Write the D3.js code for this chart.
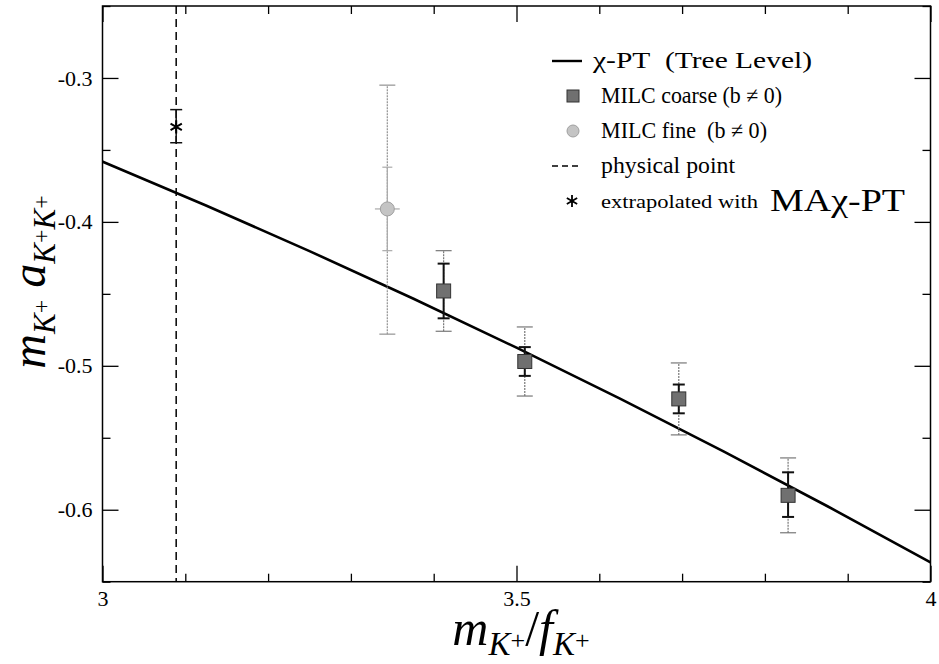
<!DOCTYPE html>
<html><head><meta charset="utf-8">
<script src="https://cdn.jsdelivr.net/npm/d3@7"></script>
<style>body{margin:0;background:#fff}svg{display:block}</style>
</head><body>
<svg id="c" width="939" height="664"></svg>
<script>
// ---- data ----
const xDomain = [3, 4];
const yDomain = [-0.65, -0.25];
const xMajorTicks = [3, 3.5, 4];
const xTickLabels = ["3", "3.5", "4"];
const xMinorTicks = [3.1, 3.2, 3.3, 3.4, 3.6, 3.7, 3.8, 3.9];
const yMajorTicks = [-0.6, -0.5, -0.4, -0.3];
const yTickLabels = ["-0.6", "-0.5", "-0.4", "-0.3"];
const yMinorTicks = [-0.65, -0.55, -0.45, -0.35, -0.25];

// tree-level chi-PT line
const treeX = [3.0, 3.125, 3.25, 3.375, 3.5, 3.625, 3.75, 3.875, 4.0];
const treeY = [-0.3581, -0.3886, -0.4203, -0.4532, -0.4874, -0.5228, -0.5595, -0.5974, -0.6366];

// MILC coarse: x, y, inner (stat) low/high, outer (total) low/high
const coarseX   = [3.412, 3.510, 3.696, 3.828];
const coarseY   = [-0.448, -0.497, -0.523, -0.590];
const coarseInLo = [-0.467, -0.507, -0.533, -0.605];
const coarseInHi = [-0.429, -0.487, -0.513, -0.574];
const coarseOutLo = [-0.476, -0.521, -0.548, -0.616];
const coarseOutHi = [-0.420, -0.473, -0.498, -0.564];

// MILC fine
const fineX = [3.344];
const fineY = [-0.391];
const fineXErr = [0.015];
const fineInLo = [-0.420];
const fineInHi = [-0.362];
const fineOutLo = [-0.478];
const fineOutHi = [-0.305];

// physical point & extrapolated
const physX = 3.089;
const extrapX = [3.089];
const extrapY = [-0.334];
const extrapLo = [-0.345];
const extrapHi = [-0.322];

const legendLabels = ["\u03C7-PT\u00A0\u00A0(Tree Level)", "MILC coarse (b \u2260 0)", "MILC fine\u00A0\u00A0(b \u2260 0)", "physical point", "extrapolated with"];

// ---- drawing ----
const SERIF = '"Liberation Serif", "Times New Roman", Times, serif';
const svg = d3.select("#c");
const L = 102.5, R = 930.5, T = 6, B = 581.7;
const x = d3.scaleLinear(xDomain, [L, R]);
const y = d3.scaleLinear(yDomain, [B, T]);

const g = svg.append("g");

// physical point dashed line
g.append("line").attr("x1", x(physX)).attr("x2", x(physX)).attr("y1", y(yDomain[1])).attr("y2", y(yDomain[0]))
  .attr("stroke", "#111").attr("stroke-width", 1.6).attr("stroke-dasharray", "8,5");

// tree-level line
const line = d3.line().x((d, i) => x(treeX[i])).y((d, i) => y(treeY[i])).curve(d3.curveNatural);
g.append("path").datum(treeX).attr("d", line).attr("fill", "none").attr("stroke", "#000").attr("stroke-width", 2.6);

function errBar(cx, lo, hi, cap, color, w, dash) {
  g.append("line").attr("x1", cx).attr("x2", cx).attr("y1", y(lo)).attr("y2", y(hi)).attr("stroke", color).attr("stroke-width", w).attr("stroke-dasharray", dash || null);
  [lo, hi].forEach(v => g.append("line").attr("x1", cx - cap).attr("x2", cx + cap).attr("y1", y(v)).attr("y2", y(v)).attr("stroke", color).attr("stroke-width", w));
}

// MILC fine
fineX.forEach((fx, i) => {
  const cx = x(fx);
  errBar(cx, fineOutLo[i], fineOutHi[i], 8, "#9a9a9a", 1.3, "2,1");
  errBar(cx, fineInLo[i], fineInHi[i], 5, "#aaa", 1.2);
  g.append("line").attr("x1", x(fx - fineXErr[i])).attr("x2", x(fx + fineXErr[i])).attr("y1", y(fineY[i])).attr("y2", y(fineY[i])).attr("stroke", "#aaa").attr("stroke-width", 1.2);
  g.append("circle").attr("cx", cx).attr("cy", y(fineY[i])).attr("r", 7).attr("fill", "#c4c4c4").attr("stroke", "#a0a0a0").attr("stroke-width", 1);
});

// MILC coarse
coarseX.forEach((cxv, i) => {
  const cx = x(cxv);
  errBar(cx, coarseOutLo[i], coarseOutHi[i], 8, "#777", 1.2, "2,1");
  errBar(cx, coarseInLo[i], coarseInHi[i], 6, "#111", 2);
  g.append("rect").attr("x", cx - 7).attr("y", y(coarseY[i]) - 7).attr("width", 14).attr("height", 14)
    .attr("fill", "#707070").attr("stroke", "#333").attr("stroke-width", 1);
});

// extrapolated star
const star = d3.symbol().type(d3.symbolAsterisk).size(120);
extrapX.forEach((ex, i) => {
  const cx = x(ex);
  errBar(cx, extrapLo[i], extrapHi[i], 6, "#111", 1.5);
  g.append("path").attr("d", star()).attr("transform", `translate(${cx},${y(extrapY[i])})`).attr("fill", "none").attr("stroke", "#000").attr("stroke-width", 2);
});

// frame
svg.append("rect").attr("x", L).attr("y", T).attr("width", R - L).attr("height", B - T).attr("fill", "none").attr("stroke", "#000").attr("stroke-width", 1.5);

// axes (inward ticks)
const axB = svg.append("g").attr("transform", `translate(0,${B})`)
  .call(d3.axisBottom(x).tickValues(xMajorTicks).tickSize(-16).tickPadding(6).tickFormat((d, i) => xTickLabels[i]));
svg.append("g").attr("transform", `translate(0,${B})`).call(d3.axisBottom(x).tickValues(xMinorTicks).tickSize(-8).tickFormat(""));
svg.append("g").attr("transform", `translate(0,${T})`).call(d3.axisTop(x).tickValues(xMajorTicks).tickSize(-16).tickFormat(""));
svg.append("g").attr("transform", `translate(0,${T})`).call(d3.axisTop(x).tickValues(xMinorTicks).tickSize(-8).tickFormat(""));
svg.append("g").attr("transform", `translate(${L},0)`)
  .call(d3.axisLeft(y).tickValues(yMajorTicks).tickSize(-16).tickPadding(10).tickFormat((d, i) => yTickLabels[i]));
svg.append("g").attr("transform", `translate(${L},0)`).call(d3.axisLeft(y).tickValues(yMinorTicks).tickSize(-8).tickFormat(""));
svg.append("g").attr("transform", `translate(${R},0)`).call(d3.axisRight(y).tickValues(yMajorTicks).tickSize(-16).tickFormat(""));
svg.append("g").attr("transform", `translate(${R},0)`).call(d3.axisRight(y).tickValues(yMinorTicks).tickSize(-8).tickFormat(""));
svg.selectAll(".domain").remove();
svg.selectAll(".tick line").attr("stroke", "#000").attr("stroke-width", 1.3);
svg.selectAll(".tick text").style("font-family", SERIF).style("font-size", "22px").attr("fill", "#000");
axB.selectAll(".tick text").attr("dy", "0.85em");

// axis titles
const xt = svg.append("text").attr("x", 521).attr("y", 645).attr("text-anchor", "middle")
  .style("font-family", SERIF).style("font-size", "50px").attr("font-style", "italic").attr("fill", "#000");
xt.append("tspan").text("m");
xt.append("tspan").style("font-size", "33px").attr("dy", 10).text("K");
xt.append("tspan").style("font-size", "26px").attr("dy", -6).attr("font-style", "normal").text("+");
xt.append("tspan").attr("dy", -4).attr("font-style", "normal").text("/");
xt.append("tspan").text("f");
xt.append("tspan").style("font-size", "33px").attr("dy", 10).text("K");
xt.append("tspan").style("font-size", "26px").attr("dy", -6).attr("font-style", "normal").text("+");

const yt = svg.append("text").attr("transform", "translate(45,282) rotate(-90)").attr("text-anchor", "middle")
  .style("font-family", SERIF).style("font-size", "48px").attr("font-style", "italic").attr("fill", "#000");
yt.append("tspan").text("m");
yt.append("tspan").style("font-size", "31px").attr("dy", 10).text("K");
yt.append("tspan").style("font-size", "24px").attr("dy", -6).attr("font-style", "normal").text("+");
yt.append("tspan").attr("dy", -4).text(" a");
yt.append("tspan").style("font-size", "31px").attr("dy", 10).text("K");
yt.append("tspan").style("font-size", "24px").attr("dy", -6).attr("font-style", "normal").text("+");
yt.append("tspan").style("font-size", "31px").attr("dy", 6).text("K");
yt.append("tspan").style("font-size", "24px").attr("dy", -6).attr("font-style", "normal").text("+");

// legend
const lg = svg.append("g");
const sx = 573;
const rowX = [593, 601, 601, 601, 601];
const rowY = [68, 103, 138, 173, 208];
const rowW = [219, 181, 166, 134, 157];
const rowF = [23, 23, 23, 23, 19];
lg.append("line").attr("x1", 552).attr("x2", 582).attr("y1", 61).attr("y2", 61).attr("stroke", "#000").attr("stroke-width", 2.4);
lg.append("rect").attr("x", sx - 6).attr("y", 90).attr("width", 12).attr("height", 12).attr("fill", "#707070").attr("stroke", "#333");
lg.append("circle").attr("cx", sx).attr("cy", 131).attr("r", 6).attr("fill", "#c4c4c4").attr("stroke", "#a0a0a0");
lg.append("line").attr("x1", 552).attr("x2", 582).attr("y1", 166).attr("y2", 166).attr("stroke", "#000").attr("stroke-width", 1.6).attr("stroke-dasharray", "6,4");
lg.append("path").attr("d", d3.symbol().type(d3.symbolAsterisk).size(100)()).attr("transform", `translate(572,201)`).attr("fill", "none").attr("stroke", "#000").attr("stroke-width", 1.8);
legendLabels.forEach((t, i) => {
  lg.append("text").attr("x", rowX[i]).attr("y", rowY[i]).style("font-family", SERIF).style("font-size", rowF[i] + "px").attr("fill", "#000")
    .attr("textLength", rowW[i]).attr("lengthAdjust", "spacingAndGlyphs").text(t);
});
lg.append("text").attr("x", 770).attr("y", 211).style("font-family", SERIF).style("font-size", "32px").attr("fill", "#000")
  .attr("textLength", 135).attr("lengthAdjust", "spacingAndGlyphs").text("MA\u03C7-PT");
</script>
</body></html>
